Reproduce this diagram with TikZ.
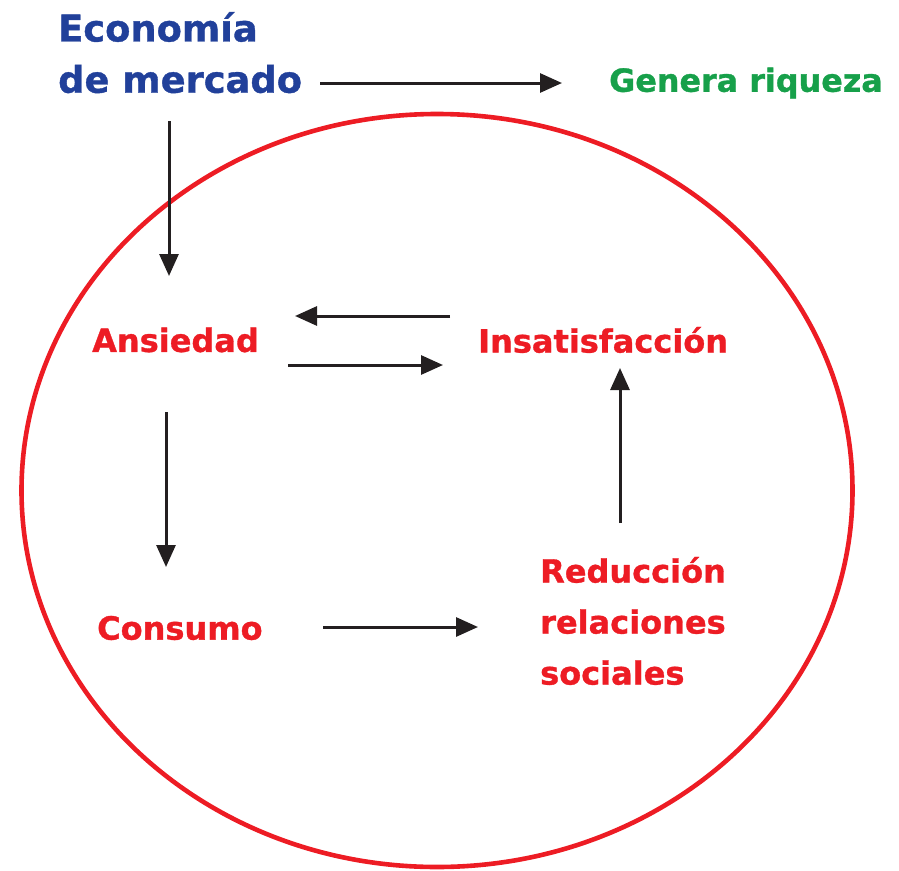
\documentclass[tikz,border=0pt]{standalone}
\usepackage{fontspec}
\setmainfont{DejaVu Sans}
\newfontfamily\heavy{DejaVu Sans Bold}[FakeBold=1]
\usetikzlibrary{arrows.meta}
\definecolor{cblue}{RGB}{33,64,154}
\definecolor{cred}{RGB}{237,28,36}
\definecolor{cgreen}{RGB}{23,160,74}
\definecolor{cblack}{RGB}{35,31,32}
\tikzset{
  arr/.style={draw=cblack, line width=3pt, -{Triangle[length=22pt,width=19pt]}},
  redtxt/.style={text=cred, font=\heavy\fontsize{32}{51}\selectfont, inner sep=0pt, anchor=west, align=left},
  bluetxt/.style={text=cblue, font=\heavy\fontsize{36.8}{52}\selectfont, inner sep=0pt, anchor=west, align=left},
  greentxt/.style={text=cgreen, font=\heavy\fontsize{31.8}{40}\selectfont, inner sep=0pt, anchor=west},
}
\begin{document}
\begin{tikzpicture}[x=1pt,y=-1pt]
\useasboundingbox (0,0) rectangle (899,870);
\draw[cred, line width=4.6pt] (437,490.5) ellipse [x radius=415.5, y radius=376.5];
\node[bluetxt] (eco1) at (58,27) {Economía};
\node[bluetxt] (eco2) at (58,79) {de mercado};
\node[greentxt] (gen) at (609,83) {Genera riqueza};
\node[redtxt] (ans) at (92,340) {Ansiedad};
\node[redtxt] (ins) at (478,340) {Insatisfacción};
\node[redtxt] (con) at (97,628) {Consumo};
\node[redtxt] (red) at (540,621) {Reducción\\relaciones\\sociales};
\coordinate (a1s) at (320,83); \coordinate (a1e) at (562,83);
\coordinate (a2s) at (169,121); \coordinate (a2e) at (169,276);
\coordinate (a3s) at (450,316); \coordinate (a3e) at (295,316);
\coordinate (a4s) at (288,365); \coordinate (a4e) at (443,365);
\coordinate (a5s) at (166,412); \coordinate (a5e) at (166,567);
\coordinate (a6s) at (323,627); \coordinate (a6e) at (478,627);
\coordinate (a7s) at (620,523); \coordinate (a7e) at (620,368);
\draw[arr] (a1s) -- (a1e);
\draw[arr] (a2s) -- (a2e);
\draw[arr] (a3s) -- (a3e);
\draw[arr] (a4s) -- (a4e);
\draw[arr] (a5s) -- (a5e);
\draw[arr] (a6s) -- (a6e);
\draw[arr] (a7s) -- (a7e);
\end{tikzpicture}
\end{document}
